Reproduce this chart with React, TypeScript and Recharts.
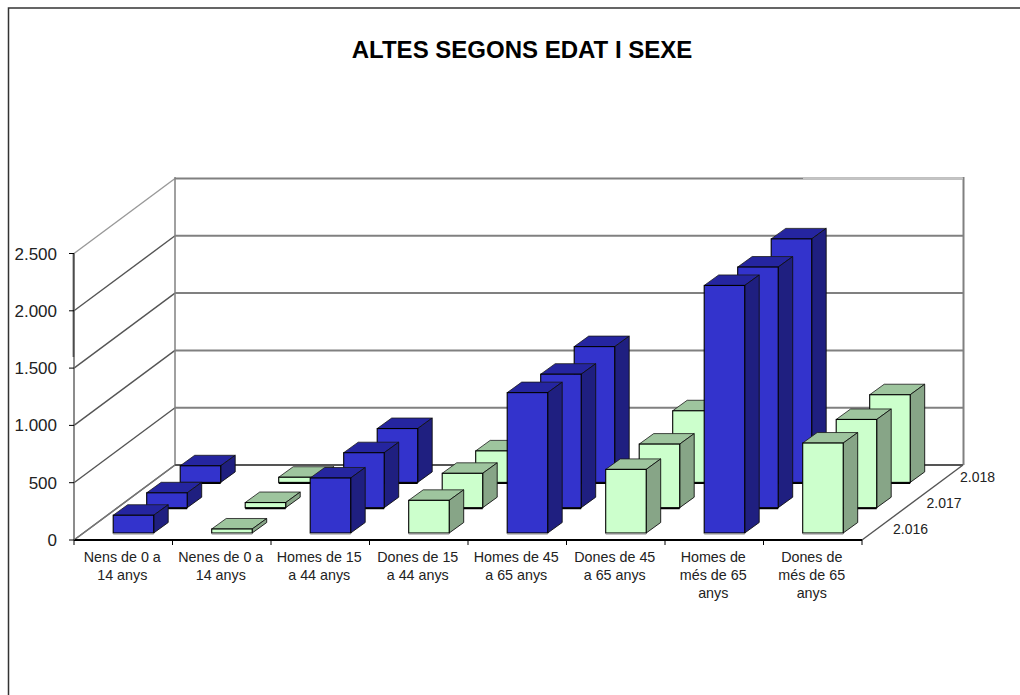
import { BarChart, Bar, XAxis, YAxis, CartesianGrid } from "recharts";

const categories = [
  "Nens de 0 a|14 anys",
  "Nenes de 0 a|14 anys",
  "Homes de 15|a 44 anys",
  "Dones de 15|a 44 anys",
  "Homes de 45|a 65 anys",
  "Dones de 45|a 65 anys",
  "Homes de|més de 65|anys",
  "Dones de|més de 65|anys",
];
const values2016 = [155, 35, 480, 285, 1225, 555, 2160, 785];
const values2017 = [130, 45, 480, 300, 1165, 555, 2100, 770];
const values2018 = [145, 45, 470, 275, 1185, 625, 2125, 765];
const yTicks = [0, 500, 1000, 1500, 2000, 2500];
const seriesLabels = ["2.016", "2.017", "2.018"];

const data = categories.map((name, i) => ({
  name,
  y2016: values2016[i],
  y2017: values2017[i],
  y2018: values2018[i],
}));

const FONT = "Liberation Sans, Arial, sans-serif";
const BLUE = { front: "#3333cc", top: "#2525a0", side: "#1f1f80" };
const GREEN = { front: "#ccffcc", top: "#9ec59e", side: "#87a587" };

// oblique projection of the depth axis
const WALL_DX = 101;
const WALL_DY = -75;
const BAR_DX = 14.5;
const BAR_DY = -10.5;
const BAND = 98.5;

const seriesOffset = (s: number) => ({ dx: 10.2 + 33.5 * s, dy: -7 - 25.3 * s });

function makeBarShape(series: number) {
  return function Bar3D(props: any) {
    const { x, y, width, height, index } = props;
    const c = index % 2 === 0 ? BLUE : GREEN;
    const { dx, dy } = seriesOffset(series);
    const l = x + dx;
    const r = l + width;
    const t = y + dy;
    const b = t + height;
    return (
      <g>
        <polygon
          points={`${l},${t} ${l + BAR_DX},${t + BAR_DY} ${r + BAR_DX},${t + BAR_DY} ${r},${t}`}
          fill={c.top}
          stroke="#1a1a1a"
          strokeWidth={0.8}
        />
        <polygon
          points={`${r},${t} ${r + BAR_DX},${t + BAR_DY} ${r + BAR_DX},${b + BAR_DY} ${r},${b}`}
          fill={c.side}
          stroke="#111"
          strokeWidth={0.9}
        />
        <rect x={l} y={t} width={width} height={height} fill={c.front} stroke="#000" strokeWidth={1.1} />
        <line
          x1={l}
          x2={r}
          y1={b + 0.8}
          y2={b + 0.8}
          stroke={series === 0 ? "#8a8a8a" : "#000"}
          strokeWidth={1.6}
        />
      </g>
    );
  };
}

function CategoryTick(props: any) {
  const { x, y, payload, index } = props;
  const lines = String(payload.value).split("|");
  const top = y - 8;
  return (
    <g>
      <line x1={x - BAND / 2} x2={x - BAND / 2} y1={top} y2={top + 5} stroke="#000" />
      {index === categories.length - 1 && (
        <line x1={x + BAND / 2} x2={x + BAND / 2} y1={top} y2={top + 5} stroke="#000" />
      )}
      {lines.map((line, i) => (
        <text key={i} x={x - 1} y={top + 21.5 + i * 18} textAnchor="middle" fontSize={14.3} fill="#222" fontFamily={FONT}>
          {line}
        </text>
      ))}
    </g>
  );
}

function GridLine3D(props: any) {
  const { x1, x2, y1 } = props;
  const isTop = y1 < 256;
  return (
    <g>
      <line x1={x1} y1={y1} x2={x1 + WALL_DX} y2={y1 + WALL_DY} stroke={isTop ? "#999" : "#555"} strokeWidth={1.4} />
      <line
        x1={x1 + WALL_DX}
        y1={y1 + WALL_DY}
        x2={x2 + WALL_DX}
        y2={y1 + WALL_DY}
        stroke="#808080"
        strokeWidth={2}
      />
    </g>
  );
}

const formatTick = (v: number) => String(v).replace(/\B(?=\d{3}$)/, ".");

export default function App() {
  return (
    <div style={{ position: "absolute", left: 0, top: 0, width: 1020, height: 695, background: "#fff" }}>
      <BarChart
        width={1020}
        height={695}
        data={data}
        barSize={40.5}
        barGap={-40.5}
        barCategoryGap={0}
        margin={{ top: 253.5, right: 158, bottom: 0, left: 0 }}
      >
        <rect x={8.5} y={8} width={1020} height={700} fill="none" stroke="#333" strokeWidth={1.5} />
        <text x={522} y={58} textAnchor="middle" fontSize={24} fontWeight="bold" fill="#000" fontFamily={FONT}>
          ALTES SEGONS EDAT I SEXE
        </text>
        <line x1={175} y1={177} x2={175} y2={465} stroke="#808080" strokeWidth={1.5} />
        <line x1={963.5} y1={177} x2={963.5} y2={465} stroke="#808080" strokeWidth={2} />
        <CartesianGrid horizontal={(p: any) => <GridLine3D key={p.key} {...p} />} vertical={false} />
        <line x1={803} y1={178.5} x2={963} y2={178.5} stroke="#c4c4c4" strokeWidth={2.2} />
        <line x1={74} y1={540} x2={175} y2={465} stroke="#777" strokeWidth={1.4} />
        <line x1={862} y1={540} x2={963} y2={465} stroke="#555" strokeWidth={1.4} />
        <line x1={175} y1={465} x2={963} y2={465} stroke="#555" strokeWidth={2} />
        <line x1={73.5} y1={253} x2={73.5} y2={357} stroke="#000" strokeWidth={1.5} />
        {seriesLabels.map((label, i) => (
          <text key={label} x={893 + 33.5 * i} y={534 - 26.2 * i} fontSize={14} fill="#222" fontFamily={FONT}>
            {label}
          </text>
        ))}
        <XAxis
          dataKey="name"
          interval={0}
          height={155}
          tickLine={false}
          tick={<CategoryTick />}
          axisLine={{ stroke: "#000", strokeWidth: 2 }}
        />
        <YAxis
          width={74}
          domain={[0, 2500]}
          ticks={yTicks}
          tickSize={5}
          tickMargin={12}
          tickFormatter={formatTick}
          tick={{ fontSize: 17, fill: "#222", fontFamily: FONT }}
          axisLine={{ stroke: "#666", strokeWidth: 1.5 }}
          tickLine={{ stroke: "#000" }}
        />
        <Bar dataKey="y2018" shape={makeBarShape(2)} isAnimationActive={false} />
        <Bar dataKey="y2017" shape={makeBarShape(1)} isAnimationActive={false} />
        <Bar dataKey="y2016" shape={makeBarShape(0)} isAnimationActive={false} />
      </BarChart>
    </div>
  );
}
